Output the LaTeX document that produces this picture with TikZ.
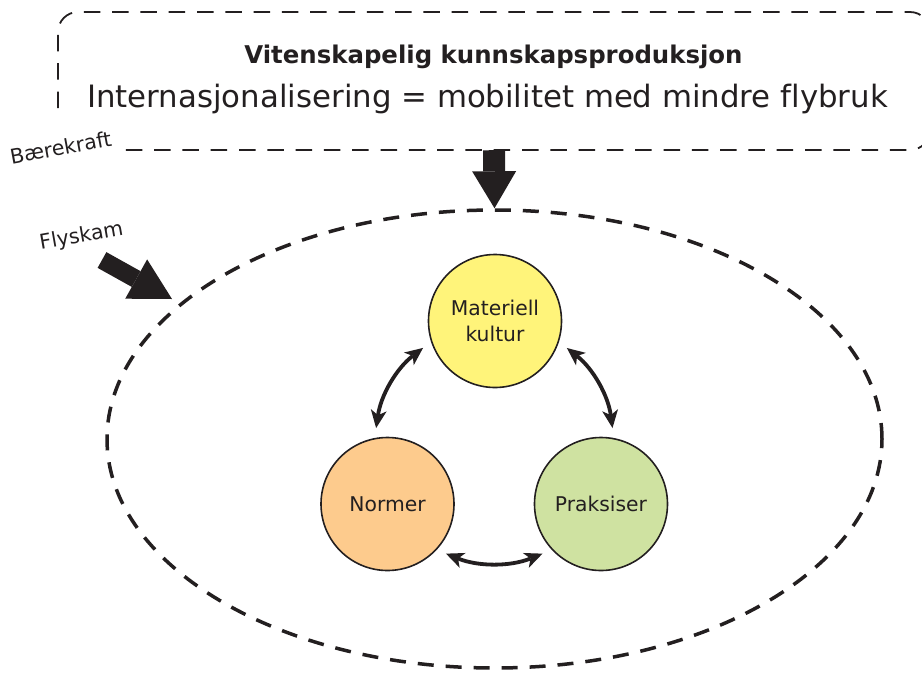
\documentclass[tikz,border=0pt]{standalone}
\usepackage{fontspec}
\setmainfont[Ligatures=NoCommon]{DejaVu Sans}
\usetikzlibrary{arrows.meta,shapes.geometric,calc}
\definecolor{ink}{HTML}{231F20}
\definecolor{matfill}{HTML}{FFF47A}
\definecolor{normfill}{HTML}{FDCB8D}
\definecolor{prakfill}{HTML}{CFE2A1}
\tikzset{
  boxline/.style={draw=ink, line width=1.8pt, dash pattern=on 16.5pt off 11.8pt, rounded corners=20pt},
  ellline/.style={draw=ink, line width=3.5pt, dash pattern=on 16pt off 12pt},
  downarrow/.style={draw=ink, line width=22pt, -{Triangle[width=44pt,length=37pt,line width=0pt]}},
  flyarrow/.style={draw=ink, line width=18pt, -{Triangle[width=45pt,length=41pt,line width=0pt]}},
  cyc/.style={draw=ink, line width=3.8pt, {Stealth[length=18pt,width=16pt,inset=5pt,line width=0pt]}-{Stealth[length=18pt,width=16pt,inset=5pt,line width=0pt]}, shorten <=10pt, shorten >=10pt},
  circ/.style={circle, draw=ink, line width=1.6pt, minimum size=133pt, inner sep=0pt, font=\fontsize{20.3}{26}\selectfont, text=ink, align=center},
  lab/.style={font=\fontsize{20.5}{24}\selectfont, text=ink, anchor=base, inner sep=0pt}
}
\begin{document}
\begin{tikzpicture}[x=1pt,y=-1pt]
\useasboundingbox (0,0) rectangle (922,673);
% top dashed box
\node[inner sep=0pt, minimum width=872pt, minimum height=138pt] (box) at (494,81) {};
\draw[boxline] (58,108) -- (58,12) -- (930,12) -- (930,150) -- (125,150);
\node[font=\bfseries\fontsize{24.4}{28}\selectfont, text=ink, anchor=base] (t1) at (493.5,63) {Vitenskapelig kunnskapsproduksjon};
\node[font=\fontsize{30.8}{36}\selectfont, text=ink, anchor=base] (t2) at (487.5,107) {Internasjonalisering = mobilitet med mindre flybruk};
\node[lab, rotate=10.5] (baer) at (62,155) {Bærekraft};
% ellipse
\node[ellipse, ellline, minimum width=775pt, minimum height=458pt, inner sep=0pt] (ell) at (494.5,439) {};
\draw[downarrow] (box.south) -- (ell.north);
% Flyskam
\node[lab, rotate=10] (flys) at (82.5,242) {Flyskam};
\coordinate (flytail) at (102,260);
\coordinate (flytip) at (172,299);
\draw[flyarrow] (flytail) -- (flytip);
% circles
\node[circ, fill=matfill] (mat) at (495,321) {Materiell\\kultur};
\node[circ, fill=normfill, text height=15pt, text depth=0pt] (norm) at (387.5,504) {Normer};
\node[circ, fill=prakfill, text height=15pt, text depth=0pt] (prak) at (601,504) {Praksiser};
\draw[cyc] (mat.198) to[bend right=22] (norm.101);
\draw[cyc] (mat.342) to[bend left=22] (prak.79);
\draw[cyc] (norm.317) to[bend right=22] (prak.223);
\end{tikzpicture}
\end{document}
